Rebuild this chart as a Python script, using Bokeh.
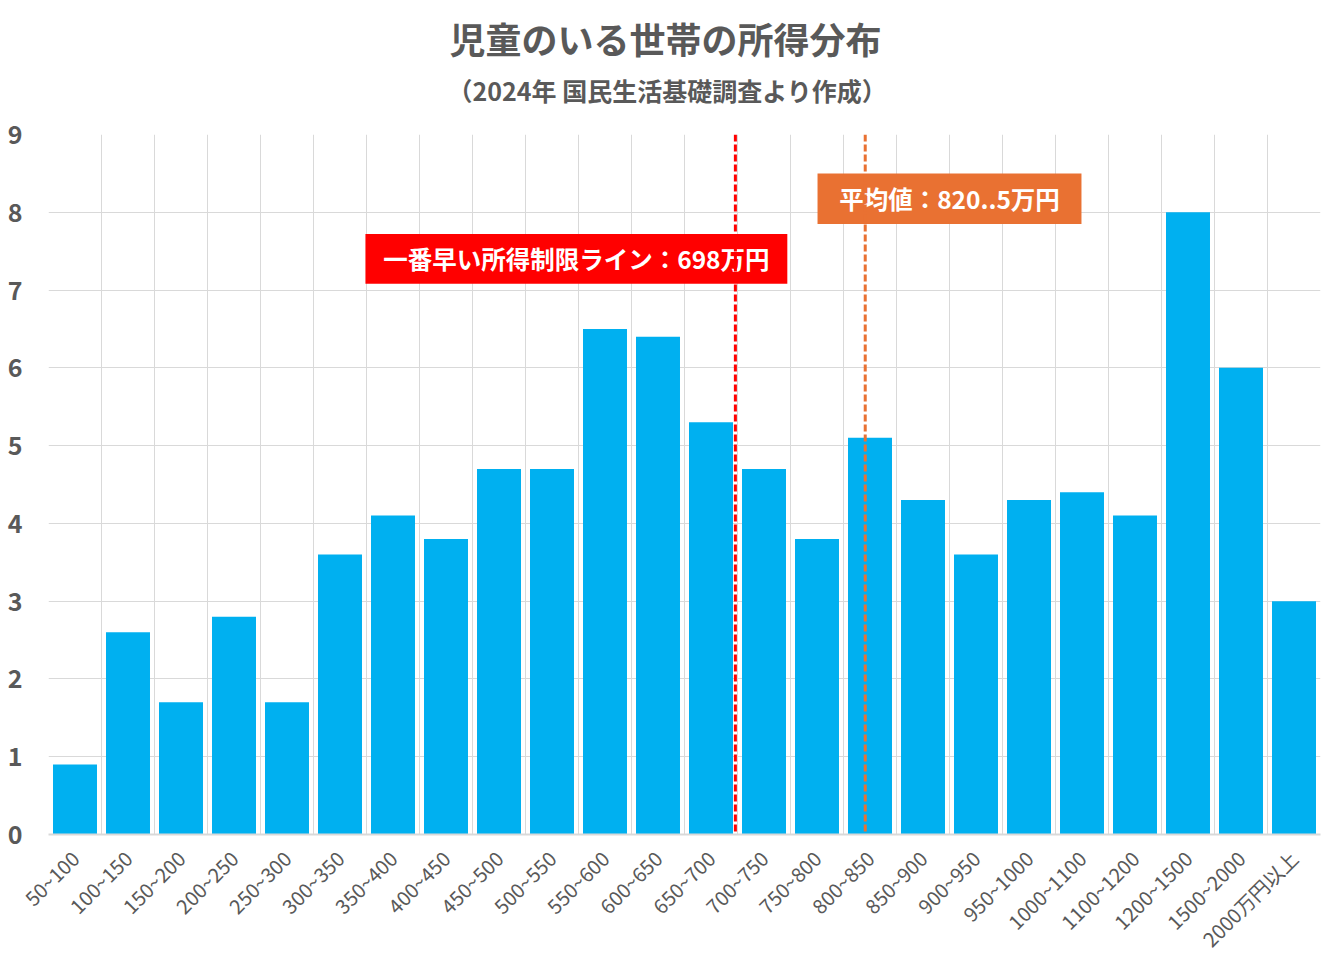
import math

from bokeh.core.properties import value
from bokeh.embed import file_html
from bokeh.models import ColumnDataSource, FixedTicker, Range1d, Span, Title
from bokeh.plotting import figure
from bokeh.resources import INLINE

# Income bands (万円) and share of households with children (%)
categories = [
    "50~100", "100~150", "150~200", "200~250", "250~300", "300~350",
    "350~400", "400~450", "450~500", "500~550", "550~600", "600~650",
    "650~700", "700~750", "750~800", "800~850", "850~900", "900~950",
    "950~1000", "1000~1100", "1100~1200", "1200~1500", "1500~2000",
    "2000万円以上",
]
shares = [
    0.9, 2.6, 1.7, 2.8, 1.7, 3.6, 4.1, 3.8, 4.7, 4.7, 6.5, 6.4,
    5.3, 4.7, 3.8, 5.1, 4.3, 3.6, 4.3, 4.4, 4.1, 8.0, 6.0, 3.0,
]
# Lower edges of each band (万円), with the last band open-ended
band_edges = [
    50, 100, 150, 200, 250, 300, 350, 400, 450, 500, 550, 600, 650,
    700, 750, 800, 850, 900, 950, 1000, 1100, 1200, 1500, 2000, 2500,
]
y_ticks = [0, 1, 2, 3, 4, 5, 6, 7, 8, 9]

limit_value = 698      # earliest income-limit line (万円)
mean_value = 820.5     # mean income (万円)
limit_text = "一番早い所得制限ライン：698万円"
mean_text = "平均値：820..5万円"

title_text = "児童のいる世帯の所得分布"
subtitle_text = "（2024年 国民生活基礎調査より作成）"

FONT = "Noto Sans CJK JP"
GREY = "#595959"
GRID = "#d9d9d9"
BLUE = "#00B0F0"
RED = "#FF0000"
ORANGE = "#E97132"


def band_position(income):
    """Map an income (万円) to the band axis (band i spans i..i+1)."""
    for i in range(len(band_edges) - 1):
        lo, hi = band_edges[i], band_edges[i + 1]
        if lo <= income < hi:
            return i + (income - lo) / (hi - lo)
    return float(len(categories))


n = len(categories)
centers = [i + 0.5 for i in range(n)]
src = ColumnDataSource(data=dict(x=centers, top=shares, cat=categories))

p = figure(
    width=1331, height=967,
    x_range=Range1d(0, n), y_range=Range1d(0, 9),
    output_backend="svg", toolbar_location=None, title=None,
    min_border_left=48, min_border_right=11,
    min_border_top=134, min_border_bottom=133,
    outline_line_color=None, background_fill_color="white",
    border_fill_color="white",
)

# Titles, left-aligned with offsets that centre them on the page
# (the subtitle is added first so it sits closest to the plot)
p.add_layout(Title(text=subtitle_text, align="left", offset=399,
                   text_font=FONT, text_font_size="25px",
                   text_font_style="bold", text_color=GREY,
                   standoff=53), "above")
p.add_layout(Title(text=title_text, align="left", offset=401,
                   text_font=FONT, text_font_size="36px",
                   text_font_style="bold", text_color=GREY,
                   standoff=-41), "above")

# Bars
p.vbar(x="x", top="top", width=0.83, source=src, color=BLUE, line_color=None)

# Axes
p.xaxis.ticker = FixedTicker(ticks=centers)
p.xaxis.major_label_overrides = {c: lab for c, lab in zip(centers, categories)}
p.xaxis.major_label_orientation = math.pi / 4
p.xaxis.major_label_text_font = FONT
p.xaxis.major_label_text_font_size = "20px"
p.xaxis.major_label_text_color = GREY
p.xaxis.major_tick_line_color = None
p.xaxis.minor_tick_line_color = None
p.xaxis.axis_line_color = GRID
p.xaxis.axis_line_width = 2
p.xaxis.major_label_standoff = 14

p.yaxis.ticker = FixedTicker(ticks=y_ticks)
p.yaxis.major_label_text_font = FONT
p.yaxis.major_label_text_font_size = "25px"
p.yaxis.major_label_text_font_style = "bold"
p.yaxis.major_label_text_color = GREY
p.yaxis.major_tick_line_color = None
p.yaxis.minor_tick_line_color = None
p.yaxis.axis_line_color = None
p.yaxis.major_label_standoff = 20

# Grid: vertical lines at band boundaries, horizontal at integer shares
p.xgrid.ticker = FixedTicker(ticks=list(range(n + 1)))
p.xgrid.grid_line_color = GRID
p.ygrid.grid_line_color = GRID

# Reference lines
limit_x = band_position(limit_value)
mean_x = band_position(mean_value)
p.add_layout(Span(location=limit_x, dimension="height", line_color=RED,
                  line_width=3, line_dash="7 3"))
p.add_layout(Span(location=mean_x, dimension="height", line_color=ORANGE,
                  line_width=3, line_dash="7 3"))

# Callout boxes
boxes = ColumnDataSource(data=dict(
    left=[limit_x - 6.98, mean_x - 0.9],
    right=[limit_x + 0.98, mean_x + 4.08],
    bottom=[7.08, 7.85],
    top=[7.72, 8.5],
    color=[RED, ORANGE],
    text=[limit_text, mean_text],
))
p.quad(left="left", right="right", bottom="bottom", top="top",
       color="color", line_color=None, source=boxes)
label_src = ColumnDataSource(data=dict(
    x=[(l + r) / 2 for l, r in zip(boxes.data["left"], boxes.data["right"])],
    y=[(b + t) / 2 for b, t in zip(boxes.data["bottom"], boxes.data["top"])],
    text=boxes.data["text"],
))
p.text(x="x", y="y", text="text", source=label_src,
       text_font=value(FONT), text_font_size="24.5px", text_font_style="bold",
       text_color="white", text_align="center", text_baseline="middle")

open("out.html", "w").write(file_html(p, INLINE))
